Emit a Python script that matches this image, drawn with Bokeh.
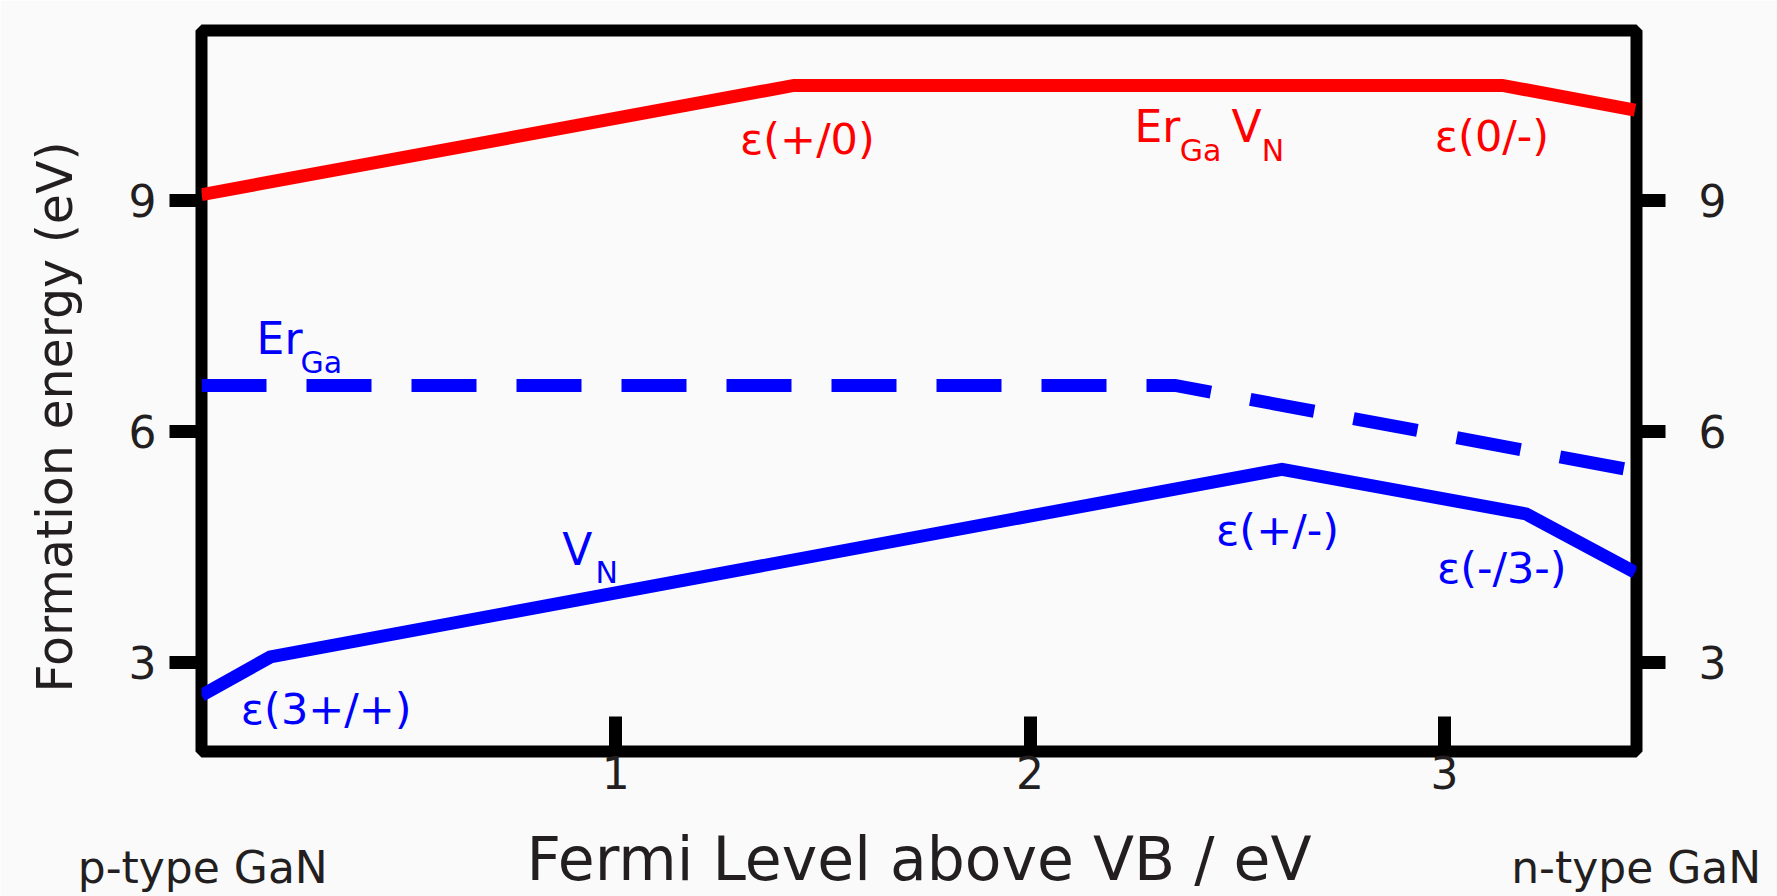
import math
from bokeh.plotting import figure
from bokeh.models import Range1d, LinearAxis, FixedTicker, Label
from bokeh.embed import file_html
from bokeh.resources import INLINE

# ---- data ----
fermi_ticks = [1, 2, 3]
energy_ticks = [3, 6, 9]
edge_ticks = [0.003, 3.463]
edge_labels = ["p-type GaN", "n-type GaN"]

# Er_Ga V_N complex (red, solid)
ergavn_x = [0.0, 1.43, 3.14, 3.46]
ergavn_y = [9.08, 10.50, 10.50, 10.18]

# Er_Ga (blue, dashed)
erga_x = [0.0, 2.35, 3.46]
erga_y = [6.60, 6.60, 5.49]

# V_N (blue, solid)
vn_x = [0.0, 0.166, 2.608, 3.197, 3.46]
vn_y = [2.57, 3.07, 5.51, 4.93, 4.17]

RED = "#ff0000"
BLUE = "#0000ff"
TXT = "#231f20"
BG = "#fafafa"

# annotations: text, x, y (data), colour, size
annotations = [
    ("ε(+/0)", 1.300, 9.80, RED, "43px"),
    ("ε(0/-)", 2.977, 9.84, RED, "43px"),
    ("Er", 2.252, 9.97, RED, "44px"),
    ("Ga", 2.361, 9.655, RED, "30px"),
    ("V", 2.486, 9.97, RED, "44px"),
    ("N", 2.559, 9.655, RED, "30px"),
    ("Er", 0.133, 7.205, BLUE, "44px"),
    ("Ga", 0.239, 6.90, BLUE, "30px"),
    ("V", 0.871, 4.47, BLUE, "44px"),
    ("N", 0.951, 4.165, BLUE, "30px"),
    ("ε(+/-)", 2.449, 4.717, BLUE, "43px"),
    ("ε(-/3-)", 2.982, 4.225, BLUE, "43px"),
    ("ε(3+/+)", 0.095, 2.395, BLUE, "43px"),
]

p = figure(width=1777, height=896,
           x_range=Range1d(0, 3.4637), y_range=Range1d(1.841, 11.214),
           output_backend="svg", toolbar_location=None,
           min_border_left=201, min_border_right=141,
           min_border_top=30, min_border_bottom=142,
           background_fill_color=BG, border_fill_color=BG)

p.grid.visible = False
p.outline_line_color = "black"
p.outline_line_width = 12
p.outline_line_alpha = 1.0

p.line(ergavn_x, ergavn_y, line_color=RED, line_width=13, line_join="miter")
p.line(erga_x, erga_y, line_color=BLUE, line_width=13, line_dash="65 40", line_join="miter")
p.line(vn_x, vn_y, line_color=BLUE, line_width=13, line_join="miter")

def style_axis(ax):
    ax.axis_line_color = None
    ax.minor_tick_line_color = None
    ax.major_tick_line_color = "black"
    ax.major_tick_line_width = 13
    ax.major_label_text_font = "DejaVu Sans"
    ax.major_label_text_font_size = "44px"
    ax.major_label_text_color = TXT

xa = p.xaxis[0]
xa.ticker = FixedTicker(ticks=fermi_ticks)
style_axis(xa)
xa.major_tick_in = 35
xa.major_tick_out = 0
xa.major_label_standoff = 4

# second bottom axis: "p-type GaN" / "n-type GaN" at the range ends, plus the x title
xb = LinearAxis(ticker=FixedTicker(ticks=edge_ticks))
style_axis(xb)
xb.major_tick_line_color = None
xb.major_tick_in = 0
xb.major_tick_out = 0
xb.major_label_text_font_size = "44px"
xb.major_label_standoff = 50
overrides = {}
for t, lab in zip(edge_ticks, edge_labels):
    overrides[t] = lab
    overrides[str(t)] = lab
xb.major_label_overrides = overrides
xb.axis_label = "Fermi Level above VB / eV"
xb.axis_label_text_font = "DejaVu Sans"
xb.axis_label_text_font_size = "60px"
xb.axis_label_text_font_style = "normal"
xb.axis_label_text_color = TXT
xb.axis_label_standoff = -72
p.add_layout(xb, "below")

ya = p.yaxis[0]
ya.ticker = FixedTicker(ticks=energy_ticks)
style_axis(ya)
ya.major_tick_in = 0
ya.major_tick_out = 32
ya.major_label_standoff = 13

yr = LinearAxis(ticker=FixedTicker(ticks=energy_ticks))
style_axis(yr)
yr.major_tick_in = 0
yr.major_tick_out = 29
yr.major_label_standoff = 33
p.add_layout(yr, "right")

for txt, x, y, col, size in annotations:
    p.add_layout(Label(x=x, y=y, text=txt, text_color=col, text_font="DejaVu Sans",
                       text_font_size=size, text_align="left", text_baseline="alphabetic"))

# y title (rotated, in the left side panel so it is not clipped by the frame)
p.add_layout(Label(x=-0.352, y=6.19, text="Formation energy (eV)", angle=math.pi / 2,
                   text_color=TXT, text_font="DejaVu Sans", text_font_size="49px",
                   text_align="center", text_baseline="alphabetic"), "left")

open("out.html", "w").write(file_html(p, INLINE))
